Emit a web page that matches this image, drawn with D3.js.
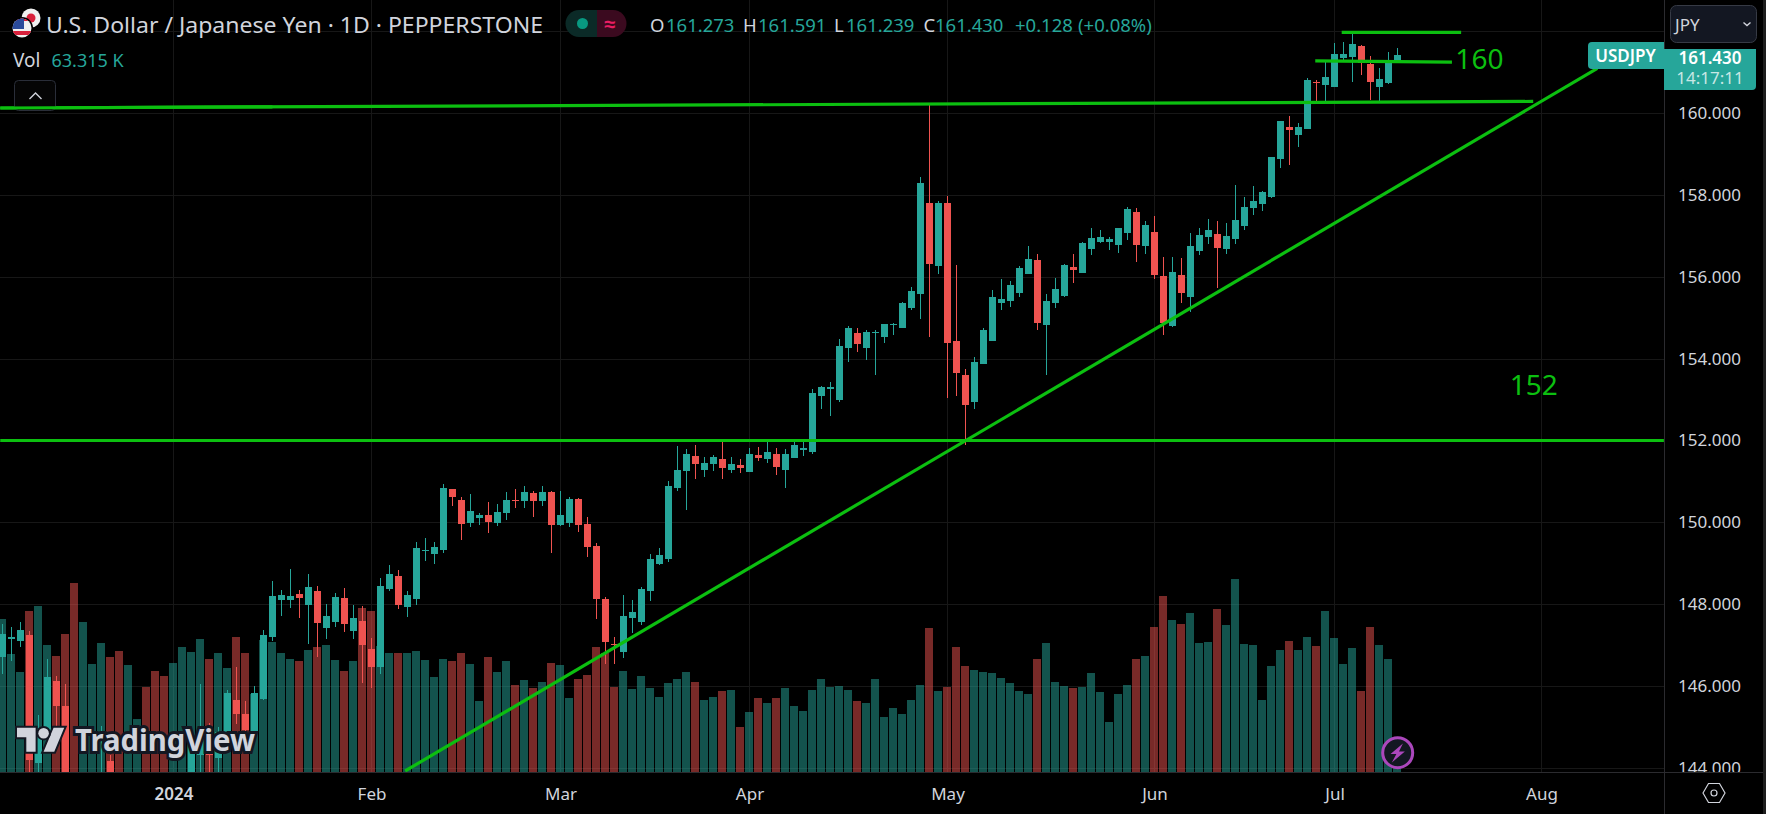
<!DOCTYPE html>
<html>
<head>
<meta charset="utf-8">
<title>USDJPY 1D</title>
<script src="https://cdn.jsdelivr.net/npm/d3@7"></script>
<style>
  html, body { margin: 0; padding: 0; background: #000; overflow: hidden; }
  svg { display: block; }
  text { font-family: "Noto Sans", sans-serif; }
</style>
</head>
<body>
<div id="chart"></div>
<script>
/* ─── Data. Candles below 144 are hidden in the original, so those are estimates ─── */
const opens = [
  146.71,147.14,147.10,147.24,144.12,144.87,146.12,145.51,143.75,142.90,143.30,143.50,144.17,143.60,143.00,143.30,
  143.60,142.60,142.00,141.40,142.00,143.20,144.30,144.87,144.24,144.83,145.66,145.31,144.87,145.68,147.19,148.10,
  148.10,148.24,147.97,148.32,147.41,147.56,148.15,147.34,147.58,146.90,146.46,148.37,148.68,147.93,148.12,149.29,
  149.22,149.32,150.81,150.54,149.98,150.10,150.17,149.98,150.22,150.54,150.51,150.71,150.51,150.73,149.93,149.98,
  150.56,149.95,149.41,148.12,147.02,146.83,147.66,147.56,148.32,148.98,149.10,150.83,151.25,151.61,151.27,151.42,
  151.54,151.27,151.39,151.22,151.64,151.54,151.66,151.29,151.56,151.76,151.71,153.08,153.25,153.00,154.25,154.64,
  154.27,154.64,154.54,154.83,154.76,155.25,155.57,157.81,156.27,157.81,154.44,153.59,152.93,153.86,154.44,155.37,
  155.42,155.61,156.08,156.42,154.83,155.35,155.54,156.25,156.10,156.69,156.86,156.86,156.79,157.08,157.59,156.76,
  157.10,156.03,154.81,156.05,155.52,156.64,156.98,157.05,156.69,156.93,157.25,157.69,157.79,157.96,158.88,159.67,
  159.47,159.62,160.76,160.69,160.64,161.35,161.37,161.64,161.20,160.64,160.74,161.273
];
const highs = [
  147.51,147.44,147.56,147.34,145.29,146.66,146.24,146.05,143.85,143.60,143.80,145.02,144.30,143.80,143.60,143.85,
  143.80,142.90,142.50,142.30,143.60,144.80,146.05,145.10,145.00,145.90,146.46,145.63,146.00,147.36,148.56,148.34,
  148.85,148.34,148.73,148.44,148.00,148.27,148.39,147.97,147.95,147.17,148.63,148.95,148.83,148.32,149.51,149.61,
  149.51,150.93,150.81,150.61,150.68,150.22,150.49,150.44,150.73,150.81,150.88,150.76,150.88,150.76,150.76,150.61,
  150.59,150.12,149.49,148.17,147.19,148.22,148.10,148.41,149.22,149.37,151.00,151.86,151.78,151.90,151.59,151.64,
  152.00,151.59,151.54,151.81,151.83,151.98,151.81,151.78,151.98,151.98,153.27,153.34,153.42,154.47,154.81,154.76,
  154.71,154.69,154.86,154.88,155.39,155.76,158.45,160.20,157.86,157.98,156.30,153.76,154.03,154.76,155.69,155.96,
  155.91,156.27,156.76,156.57,155.57,155.98,156.32,156.57,156.86,157.20,157.15,156.98,157.20,157.71,157.69,157.37,
  157.49,156.49,156.49,156.47,157.08,157.20,157.42,157.37,157.32,158.25,157.96,158.23,158.10,158.93,159.81,159.93,
  159.76,160.86,160.81,161.28,161.72,161.74,161.96,161.67,161.40,161.11,161.50,161.591
];
const lows = [
  146.29,146.62,146.95,143.80,143.85,144.70,145.03,143.50,142.60,142.60,143.00,143.20,143.20,142.80,142.80,143.10,
  142.30,141.60,141.10,141.00,141.80,143.00,143.50,143.70,143.90,144.70,145.07,144.87,144.75,145.66,147.10,147.71,
  147.90,147.66,147.02,146.71,147.14,147.44,147.32,147.14,146.07,145.95,146.29,148.32,147.88,147.68,147.97,149.05,
  148.98,149.24,150.39,149.56,149.88,149.93,149.73,149.90,150.05,150.34,150.34,150.12,150.41,149.24,149.90,149.88,
  149.76,149.15,147.63,146.53,146.53,146.68,147.29,147.49,148.07,148.95,149.02,150.76,150.29,151.05,151.10,151.25,
  151.05,151.20,151.20,151.22,151.49,151.46,151.15,150.85,151.56,151.61,151.68,152.78,152.61,152.95,153.93,154.17,
  153.98,153.61,154.39,154.57,154.76,155.20,154.98,154.54,156.08,153.03,153.08,151.90,152.78,153.86,154.44,155.18,
  155.27,155.52,156.08,154.71,153.61,155.25,155.52,155.86,156.10,156.54,156.83,156.66,156.59,156.91,156.37,156.57,
  155.96,154.57,154.78,155.35,155.13,156.54,156.81,155.74,156.57,156.81,157.15,157.52,157.62,157.93,158.66,158.74,
  159.18,159.62,160.28,160.25,160.64,161.28,160.76,160.94,160.32,160.28,160.72,161.239
];
const closes = [
  147.27,147.19,147.36,144.19,144.95,146.22,145.51,143.81,142.90,143.40,143.60,143.80,143.60,143.00,143.40,143.70,
  142.60,142.00,141.40,142.00,143.20,144.60,144.90,144.30,144.87,145.83,145.31,144.92,145.83,147.24,148.19,148.22,
  148.19,148.15,148.41,147.54,147.71,148.17,147.51,147.66,147.00,146.46,148.44,148.73,147.97,148.22,149.37,149.32,
  149.39,150.83,150.61,149.95,150.27,150.17,150.00,150.24,150.54,150.51,150.73,150.51,150.73,149.93,150.17,150.56,
  149.93,149.39,148.12,147.07,147.00,147.71,147.80,148.37,149.10,149.20,150.88,151.27,151.66,151.42,151.44,151.59,
  151.32,151.42,151.32,151.68,151.56,151.73,151.34,151.66,151.88,151.81,153.17,153.30,153.32,154.30,154.74,154.37,
  154.66,154.66,154.86,154.86,155.35,155.66,158.30,156.32,157.81,154.39,153.64,152.86,153.91,154.71,155.52,155.47,
  155.81,156.22,156.44,154.88,155.42,155.71,156.30,156.18,156.83,156.96,156.98,156.93,157.20,157.66,156.79,157.27,
  156.05,154.88,156.13,155.61,156.76,157.03,157.15,156.71,157.00,157.40,157.71,157.86,158.08,158.93,159.81,159.59,
  159.67,160.81,160.74,160.89,161.45,161.45,161.69,161.23,160.76,160.84,161.30,161.430
];
const volumes = [
  1836,1416,1200,1932,1992,1524,1392,1656,2268,1800,1296,1548,1380,1452,1284,636,
  1020,1212,1152,1308,1500,1440,1596,1356,1428,1248,1620,1428,936,1584,1560,1428,
  1356,1332,1464,1500,1524,1344,1212,1332,1968,1932,1512,1428,1428,1428,1452,1344,
  1140,1356,1332,1428,1296,852,1380,1200,1332,1044,1104,1008,1080,1308,1284,888,
  1116,1164,1500,1428,1020,1212,996,1152,1008,900,1068,1116,1200,1080,864,900,
  972,984,540,720,888,828,888,1008,792,732,984,1116,1020,1032,984,852,
  828,1116,660,768,696,864,1044,1728,972,1020,1500,1272,1224,1200,1188,1128,
  1068,972,936,1356,1548,1080,1032,1008,1020,1188,960,600,936,1044,1356,1392,
  1740,2112,1824,1776,1908,1548,1560,1956,1764,2316,1536,1524,864,1272,1464,1572,
  1464,1620,1512,1932,1608,1296,1488,972,1740,1524,1356,63.315
];

const monthIndex = [19, 41, 62, 83, 105, 128, 148, 171];
const monthLabels = ['2024', 'Feb', 'Mar', 'Apr', 'May', 'Jun', 'Jul', 'Aug'];
const priceTicks = [160, 158, 156, 154, 152, 150, 148, 146, 144];
const gridPrices = [162, ...priceTicks];

// hand-drawn lines: [bar index, price, bar index, price]
const drawnLines = [
  [-0.25, 160.13, 170.08, 160.29],
  [-0.25, 152, 184.6, 152],
  [44.74, 143.92, 177.2, 161.10],
  [148.8, 161.98, 162.07, 161.98],
  [145.86, 161.28, 161.05, 161.25]
];
const drawnLabels = [
  { text: '160', bar: 164.1, price: 161.35 },
  { text: '152', bar: 170.15, price: 153.38 }
];

/* ─── Setup ─── */
const cfg = {
  w: 1766, h: 814,
  paneRight: 1664, paneBottom: 772,
  up: '#26a69a', down: '#ef5350',
  volUp: 'rgba(38, 166, 154, 0.5)', volDown: 'rgba(239, 83, 80, 0.5)',
  grid: '#171717', border: '#2b2b2f', text: '#d1d4dc', lineGreen: '#0cbf10'
};

const svg = d3.select('#chart').append('svg')
  .attr('width', cfg.w).attr('height', cfg.h)
  .style('background', '#000');

const defs = svg.append('defs');
defs.append('clipPath').attr('id', 'pane').append('rect')
  .attr('width', cfg.paneRight).attr('height', cfg.paneBottom);
defs.append('clipPath').attr('id', 'scaleClip').append('rect')
  .attr('x', cfg.paneRight).attr('width', cfg.w - cfg.paneRight).attr('height', cfg.paneBottom);
defs.append('clipPath').attr('id', 'usFlag').append('circle')
  .attr('cx', 22).attr('cy', 28).attr('r', 9.5);

// Scales
const x = d3.scaleLinear().domain([0, 155]).range([2.5, 1397.5]);
const y = d3.scaleLinear().domain([144, 160]).range([767.7, 113.3]);
const vol = d3.scaleLinear().domain([0, 2400]).range([cfg.paneBottom, cfg.paneBottom - 200]);

const bars = d3.range(opens.length).map(i => ({
  i, o: opens[i], h: highs[i], l: lows[i], c: closes[i], v: volumes[i], up: closes[i] >= opens[i]
}));

const pane = svg.append('g').attr('clip-path', 'url(#pane)');

// Grid lines
pane.selectAll('.grid-h').data(gridPrices).join('line')
  .attr('x1', 0).attr('x2', cfg.paneRight)
  .attr('y1', d => Math.round(y(d)) + 0.5).attr('y2', d => Math.round(y(d)) + 0.5)
  .attr('stroke', cfg.grid);
pane.selectAll('.grid-v').data(monthIndex).join('line')
  .attr('x1', d => x(d)).attr('x2', d => x(d))
  .attr('y1', 0).attr('y2', cfg.paneBottom)
  .attr('stroke', cfg.grid);

// Volume
pane.append('g').selectAll('rect').data(bars).join('rect')
  .attr('x', d => x(d.i) - 4.5)
  .attr('width', 8)
  .attr('y', d => Math.round(vol(d.v)))
  .attr('height', d => cfg.paneBottom - Math.round(vol(d.v)))
  .attr('fill', d => d.up ? cfg.volUp : cfg.volDown);

// Candles
const candles = pane.append('g').selectAll('g').data(bars).join('g')
  .attr('fill', d => d.up ? cfg.up : cfg.down);
candles.append('rect')
  .attr('x', d => x(d.i) - 0.5).attr('width', 1)
  .attr('y', d => Math.round(y(d.h)))
  .attr('height', d => Math.max(1, Math.round(y(d.l)) - Math.round(y(d.h))));
candles.append('rect')
  .attr('x', d => x(d.i) - 3.5).attr('width', 7)
  .attr('y', d => Math.round(y(Math.max(d.o, d.c))))
  .attr('height', d => Math.max(1, Math.round(y(Math.min(d.o, d.c))) - Math.round(y(Math.max(d.o, d.c)))));

// Drawn lines + labels
pane.selectAll('.drawn').data(drawnLines).join('line')
  .attr('x1', d => x(d[0])).attr('y1', d => y(d[1]))
  .attr('x2', d => x(d[2])).attr('y2', d => y(d[3]))
  .attr('stroke', cfg.lineGreen).attr('stroke-width', 3.2);
pane.selectAll('.drawn-label').data(drawnLabels).join('text')
  .attr('x', d => x(d.bar)).attr('y', d => y(d.price))
  .attr('text-anchor', 'middle').attr('dominant-baseline', 'central')
  .attr('fill', cfg.lineGreen).attr('font-size', 28)
  .text(d => d.text);

// Watermark
const wm = pane.append('g');
wm.append('path')
  .attr('transform', 'translate(17,722.5) scale(1.33)')
  .attr('d', 'M14 22H7V11H0V4h14v18zM28 22h-8l7.5-18h8L28 22z')
  .attr('fill', cfg.text).attr('stroke', '#131722').attr('stroke-width', 3).attr('paint-order', 'stroke');
wm.append('circle').attr('cx', 43.6).attr('cy', 733.2).attr('r', 5.3)
  .attr('fill', cfg.text).attr('stroke', '#131722').attr('stroke-width', 4).attr('paint-order', 'stroke');
wm.append('text').attr('x', 75).attr('y', 751)
  .attr('font-family', 'Inter').attr('font-size', 31).attr('font-weight', 700)
  .attr('textLength', 180).attr('lengthAdjust', 'spacingAndGlyphs')
  .attr('fill', cfg.text).attr('stroke', '#131722').attr('stroke-width', 6).attr('paint-order', 'stroke')
  .text('TradingView');

// Bolt button
svg.append('circle').attr('cx', 1397.7).attr('cy', 752.7).attr('r', 15)
  .attr('fill', '#131722').attr('stroke', '#ab47bc').attr('stroke-width', 3);
svg.append('path')
  .attr('transform', 'translate(1397.7,752.7) scale(1.3)')
  .attr('d', 'M4 -7 L-5.5 1 L-1 1 L-4.5 7.5 L5.5 -1 L1 -1 Z')
  .attr('fill', '#ab47bc');

// Borders
svg.append('line').attr('x1', 0).attr('x2', 1763).attr('y1', cfg.paneBottom + 0.5).attr('y2', cfg.paneBottom + 0.5).attr('stroke', cfg.border);
svg.append('line').attr('x1', cfg.paneRight + 0.5).attr('x2', cfg.paneRight + 0.5).attr('y1', 0).attr('y2', cfg.h).attr('stroke', cfg.border);
svg.append('rect').attr('x', 1763).attr('width', 3).attr('height', cfg.h).attr('fill', '#1e1e1e');

// X axis
svg.append('g')
  .attr('transform', `translate(0, ${cfg.paneBottom})`)
  .call(d3.axisBottom(x).tickValues(monthIndex).tickFormat((d, i) => monthLabels[i]).tickSize(0))
  .call(g => g.select('.domain').remove())
  .call(g => g.selectAll('.tick text')
    .attr('y', 22).attr('dy', '0.36em')
    .attr('fill', cfg.text)
    .attr('font-family', '"Noto Sans", sans-serif')
    .attr('font-size', '17px')
    .attr('font-weight', d => d === 19 ? 600 : 400));

// Y axis labels
svg.append('g')
  .attr('clip-path', 'url(#scaleClip)')
  .append('g')
  .attr('transform', `translate(${cfg.paneRight}, 0)`)
  .call(d3.axisRight(y).tickValues(priceTicks).tickFormat(d3.format('.3f')).tickSize(0))
  .call(g => g.select('.domain').remove())
  .call(g => g.selectAll('.tick text')
    .attr('x', 14)
    .attr('fill', cfg.text)
    .attr('font-family', '"Noto Sans", sans-serif')
    .attr('font-size', '17px'));

// Price + symbol tags
svg.append('path')
  .attr('d', 'M1664 49h92v37a4 4 0 0 1 -4 4h-88z')
  .attr('fill', cfg.up);
svg.append('text').attr('x', 1710).attr('y', 57).attr('text-anchor', 'middle').attr('dominant-baseline', 'central')
  .attr('fill', '#fff').attr('font-size', 17).attr('font-weight', 600).text('161.430');
svg.append('text').attr('x', 1710).attr('y', 77).attr('text-anchor', 'middle').attr('dominant-baseline', 'central')
  .attr('fill', 'rgba(255,255,255,0.75)').attr('font-size', 17).text('14:17:11');
svg.append('path')
  .attr('d', 'M1664 42h-72a4 4 0 0 0 -4 4v19a4 4 0 0 0 4 4h72z')
  .attr('fill', cfg.up);
svg.append('text').attr('x', 1625.5).attr('y', 55.5).attr('text-anchor', 'middle').attr('dominant-baseline', 'central')
  .attr('fill', '#fff').attr('font-size', 17).attr('font-weight', 600).text('USDJPY');

// Currency dropdown
svg.append('rect').attr('x', 1670.5).attr('y', 5.5).attr('width', 86).attr('height', 37).attr('rx', 6)
  .attr('fill', '#131722').attr('stroke', '#363a45');
svg.append('text').attr('x', 1675).attr('y', 24).attr('dominant-baseline', 'central')
  .attr('fill', cfg.text).attr('font-size', 17).text('JPY');
svg.append('path').attr('d', 'M1743.5 22.5l3.5 3 3.5-3').attr('fill', 'none').attr('stroke', cfg.text).attr('stroke-width', 1.4);

// Settings hexagon
svg.append('path').attr('d', 'M1703 793l5.5-9.5h11l5.5 9.5-5.5 9.5h-11z').attr('fill', 'none').attr('stroke', cfg.text).attr('stroke-width', 1.2);
svg.append('circle').attr('cx', 1714).attr('cy', 793).attr('r', 3).attr('fill', 'none').attr('stroke', cfg.text).attr('stroke-width', 1.2);

/* ─── Legend ─── */
const legend = svg.append('g');

// flags
legend.append('circle').attr('cx', 31).attr('cy', 18).attr('r', 9.5).attr('fill', '#f0f0f0');
legend.append('circle').attr('cx', 31).attr('cy', 18).attr('r', 4.5).attr('fill', '#d8203b');
legend.append('circle').attr('cx', 22).attr('cy', 28).attr('r', 11).attr('fill', '#000');
const us = legend.append('g').attr('clip-path', 'url(#usFlag)');
us.append('rect').attr('x', 12).attr('y', 18).attr('width', 20).attr('height', 20).attr('fill', '#f0f0f0');
us.append('rect').attr('x', 12).attr('y', 31).attr('width', 20).attr('height', 4).attr('fill', '#d8203b');
us.append('rect').attr('x', 12).attr('y', 18).attr('width', 20).attr('height', 3).attr('fill', '#d8203b');
us.append('rect').attr('x', 12).attr('y', 18).attr('width', 12).attr('height', 11).attr('fill', '#2a4a9a');

legend.append('text').attr('x', 46).attr('y', 24).attr('dominant-baseline', 'central')
  .attr('fill', cfg.text).attr('font-size', 21.5)
  .attr('textLength', 497).attr('lengthAdjust', 'spacingAndGlyphs')
  .text('U.S. Dollar / Japanese Yen · 1D · PEPPERSTONE');

// market status pill
legend.append('path').attr('d', 'M597 10h-18a13.4 13.4 0 0 0 0 27h18z').attr('fill', '#0b2a27');
legend.append('path').attr('d', 'M597 10h16a13.4 13.4 0 0 1 0 27h-16z').attr('fill', '#3b0a1f');
legend.append('circle').attr('cx', 582.5).attr('cy', 23.5).attr('r', 5.5).attr('fill', '#089981');
legend.append('text').attr('x', 610).attr('y', 23.5).attr('text-anchor', 'middle').attr('dominant-baseline', 'central')
  .attr('fill', '#e91e63').attr('font-size', 20).attr('font-weight', 600).text('≈');

// OHLC values: label, x, value, x
const ohlcRow = [
  ['O', 650, '161.273', 666],
  ['H', 743, '161.591', 758],
  ['L', 834, '161.239', 846],
  ['C', 923.5, '161.430', 935]
];
ohlcRow.forEach(([k, kx, v, vx]) => {
  legend.append('text').attr('x', kx).attr('y', 24).attr('dominant-baseline', 'central')
    .attr('fill', cfg.text).attr('font-size', 18.5).text(k);
  legend.append('text').attr('x', vx).attr('y', 24).attr('dominant-baseline', 'central')
    .attr('fill', cfg.up).attr('font-size', 18.5).text(v);
});
legend.append('text').attr('x', 1015).attr('y', 24).attr('dominant-baseline', 'central')
  .attr('fill', cfg.up).attr('font-size', 18.5).text('+0.128');
legend.append('text').attr('x', 1078).attr('y', 24).attr('dominant-baseline', 'central')
  .attr('fill', cfg.up).attr('font-size', 18.5).text('(+0.08%)');

legend.append('text').attr('x', 13).attr('y', 60).attr('dominant-baseline', 'central')
  .attr('fill', cfg.text).attr('font-size', 19).text('Vol');
legend.append('text').attr('x', 51.5).attr('y', 60).attr('dominant-baseline', 'central')
  .attr('fill', cfg.up).attr('font-size', 18).text('63.315 K');

// collapse button
legend.append('rect').attr('x', 14.5).attr('y', 80.5).attr('width', 41).attr('height', 30).attr('rx', 4)
  .attr('fill', '#050505').attr('stroke', '#2a2e39');
legend.append('path').attr('d', 'M29.5 99l6-6 6 6').attr('fill', 'none').attr('stroke', cfg.text).attr('stroke-width', 1.4);

// the long line passes over the button in the original
svg.append('line')
  .attr('x1', x(drawnLines[0][0])).attr('y1', y(drawnLines[0][1]))
  .attr('x2', x(30)).attr('y2', y(drawnLines[0][1] + (drawnLines[0][3] - drawnLines[0][1]) * (30.25 / 170.33)))
  .attr('stroke', cfg.lineGreen).attr('stroke-width', 3.2);
</script>
</body>
</html>
